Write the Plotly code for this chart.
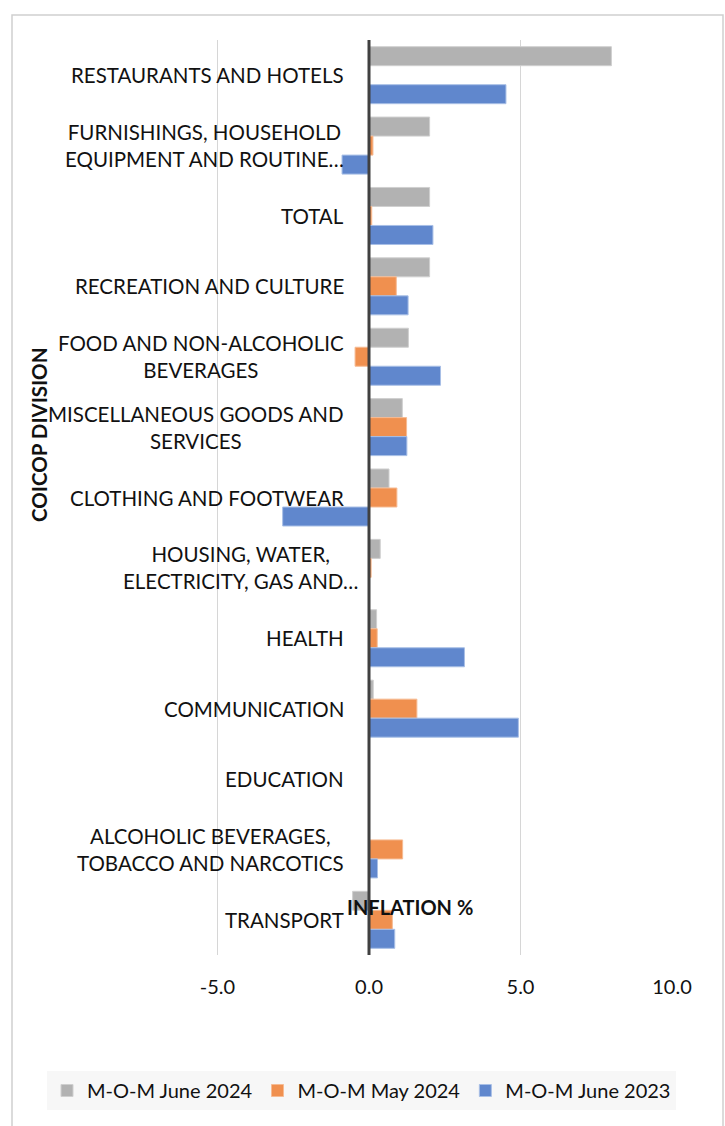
import plotly.graph_objects as go

categories = [
    "RESTAURANTS AND HOTELS",
    "FURNISHINGS, HOUSEHOLD<br>EQUIPMENT AND ROUTINE…",
    "TOTAL",
    "RECREATION AND CULTURE",
    "FOOD AND NON-ALCOHOLIC<br>BEVERAGES",
    "MISCELLANEOUS GOODS AND<br>SERVICES",
    "CLOTHING AND FOOTWEAR",
    "HOUSING, WATER,<br>ELECTRICITY, GAS AND…",
    "HEALTH",
    "COMMUNICATION",
    "EDUCATION",
    "ALCOHOLIC BEVERAGES,<br>TOBACCO AND NARCOTICS",
    "TRANSPORT",
]

june_2024 = [8.0, 2.0, 2.0, 2.0, 1.3, 1.1, 0.66, 0.37, 0.25, 0.14, 0.0, 0.0, -0.54]
may_2024 = [0.0, 0.13, 0.09, 0.9, -0.46, 1.24, 0.92, 0.07, 0.27, 1.58, 0.0, 1.11, 0.77]
june_2023 = [4.52, -0.89, 2.11, 1.29, 2.36, 1.25, -2.85, 0.0, 3.15, 4.93, 0.0, 0.28, 0.85]

series_names = ["M-O-M June 2024", "M-O-M May 2024", "M-O-M June 2023"]
x_ticks = [-5, 0, 5, 10]
x_ticktext = ["-5.0", "0.0", "5.0", "10.0"]

FONT = "Lato"
TXT = "#111111"
fill_colors = ["#b2b2b2", "#f0904f", "#6087cd"]
edge_colors = ["#cfcfcf", "#f6bb93", "#a8bfe6"]

W, H = 725, 1126
L, R, T, B = 216, 53, 40, 171
PW, PH = W - L - R, H - T - B


def px_x(px):
    return (px - L) / PW


def px_y(py):
    return 1 - (py - T) / PH


fig = go.Figure()
for name, vals, fc, ec in zip(series_names, [june_2024, may_2024, june_2023], fill_colors, edge_colors):
    fig.add_trace(go.Bar(
        x=vals, y=categories, orientation="h", name=name,
        marker=dict(color=fc, line=dict(color=ec, width=1)),
    ))

# Category labels placed next to the zero axis
for cat in categories:
    xshift = -23
    if cat.startswith("HOUSING"):
        xshift = -9
    fig.add_annotation(
        x=0, y=cat, xref="x", yref="y", text=cat, showarrow=False,
        xanchor="right", yanchor="middle", align="center", xshift=xshift,
        font=dict(family=FONT, size=20.5, color=TXT),
    )

# Axis titles
fig.add_annotation(
    xref="paper", yref="paper", x=px_x(410), y=px_y(907),
    text="<b>INFLATION %</b>", showarrow=False, xanchor="center", yanchor="middle",
    font=dict(family=FONT, size=20, color=TXT),
)
fig.add_annotation(
    xref="paper", yref="paper", x=px_x(39), y=px_y(435),
    text="<b>COICOP DIVISION</b>", showarrow=False, textangle=-90,
    xanchor="center", yanchor="middle",
    font=dict(family=FONT, size=20.5, color=TXT),
)

# zero axis line
fig.add_shape(type="line", x0=0, x1=0, xref="x", y0=0, y1=1, yref="paper",
              line=dict(color="#404040", width=3), layer="above")
# outer chart border
fig.add_shape(type="rect", xref="paper", yref="paper",
              x0=px_x(12), x1=px_x(723), y0=px_y(15), y1=px_y(1140),
              line=dict(color="#d0d0d0", width=1.5), layer="below")

fig.update_layout(
    width=W, height=H,
    margin=dict(l=L, r=R, t=T, b=B, pad=0, autoexpand=False),
    paper_bgcolor="white", plot_bgcolor="white",
    barmode="group", bargap=0.19, bargroupgap=0,
    font=dict(family=FONT, size=20, color=TXT),
    showlegend=True,
    legend=dict(
        orientation="h", xref="paper", yref="paper",
        x=px_x(47), xanchor="left", y=px_y(1071), yanchor="top",
        bgcolor="#f7f7f7", font=dict(family=FONT, size=20, color=TXT),
        traceorder="normal", itemwidth=30,
    ),
    xaxis=dict(
        range=[-5.05, 10], tickvals=x_ticks, ticktext=x_ticktext,
        showgrid=True, gridcolor="#d6d6d6", gridwidth=1,
        zeroline=False, showline=False,
        ticks="outside", ticklen=14, tickcolor="rgba(0,0,0,0)",
        tickfont=dict(family=FONT, size=20, color=TXT),
    ),
    yaxis=dict(
        type="category", autorange="reversed", showticklabels=False,
        showgrid=False, zeroline=False, showline=False, ticks="",
    ),
)

fig.write_html("out.html", config={"displayModeBar": False},
               post_script="document.body.style.margin='0';")
